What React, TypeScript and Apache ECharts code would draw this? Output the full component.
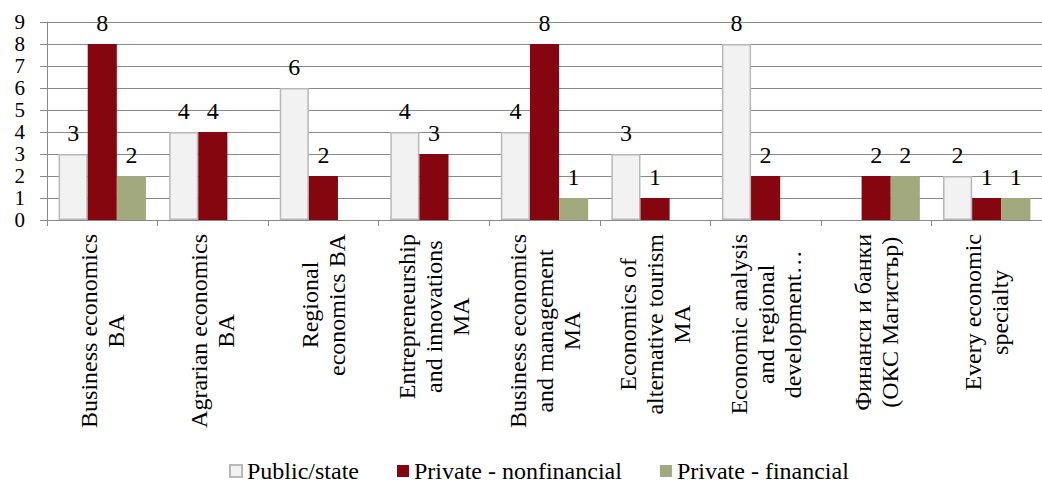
import React, { useEffect, useRef } from "react";
import * as echarts from "echarts";

const categories = [
  "Business economics\nBA",
  "Agrarian economics\nBA",
  "Regional\neconomics BA",
  "Entrepreneurship\nand innovations\nMA",
  "Business economics\nand management\nMA",
  "Economics of\nalternative tourism\nMA",
  "Economic analysis\nand regional\ndevelopment…",
  "Финанси и банки\n(ОКС Магистър)",
  "Every economic\nspecialty",
];

const publicState = [3, 4, 6, 4, 4, 3, 8, null, 2];
const privateNonfinancial = [8, 4, 2, 3, 8, 1, 2, 2, 1];
const privateFinancial = [2, null, null, null, 1, null, null, 2, 1];

const FONT = '"Liberation Serif", "Times New Roman", serif';
const GRID_COLOR = "#8a8a8a";

export default function App() {
  const ref = useRef<HTMLDivElement>(null);

  useEffect(() => {
    if (!ref.current) return;
    const chart = echarts.init(ref.current, null, { renderer: "svg" });

    const label = {
      show: true,
      position: "top",
      distance: 9,
      color: "#000",
      fontFamily: FONT,
      fontSize: 24,
    };

    chart.setOption({
      animation: false,
      textStyle: { fontFamily: FONT },
      grid: { left: 47, top: 22, width: 1003.5, height: 198, containLabel: false },
      legend: {
        left: 224,
        top: 454,
        itemWidth: 12,
        itemHeight: 12,
        itemGap: 38,
        icon: "rect",
        textStyle: { fontFamily: FONT, fontSize: 24, color: "#000" },
        data: ["Public/state", "Private - nonfinancial", "Private - financial"],
      },
      xAxis: {
        type: "category",
        data: categories,
        boundaryGap: true,
        axisLine: { show: true, lineStyle: { color: GRID_COLOR, width: 1 } },
        axisTick: { show: true, length: 6, alignWithLabel: false, lineStyle: { color: GRID_COLOR } },
        axisLabel: {
          interval: 0,
          rotate: 90,
          margin: 14,
          color: "#000",
          fontFamily: FONT,
          fontSize: 24,
          // each line is centred within its label block
          formatter: (v: string) =>
            v
              .split("\n")
              .map((l) => `{c|${l}}`)
              .join("\n"),
          rich: {
            c: {
              align: "center",
              fontFamily: FONT,
              fontSize: 24,
              lineHeight: 27,
              color: "#000",
            },
          },
        },
      },
      yAxis: {
        type: "value",
        min: 0,
        max: 9,
        interval: 1,
        axisLine: { show: true, lineStyle: { color: GRID_COLOR, width: 1 } },
        axisTick: { show: true, length: 7, lineStyle: { color: GRID_COLOR } },
        axisLabel: {
          margin: 22,
          color: "#000",
          fontFamily: FONT,
          fontSize: 21,
          lineHeight: 20,
          showMinLabel: true,
          showMaxLabel: true,
          hideOverlap: false,
        },
        splitLine: { show: true, lineStyle: { color: GRID_COLOR, width: 1 } },
      },
      series: [
        {
          name: "Public/state",
          type: "bar",
          data: publicState,
          barGap: "0%",
          barCategoryGap: "21%",
          itemStyle: { color: "#f2f2f2", borderColor: "#b8b8b8", borderWidth: 1.5 },
          label,
        },
        {
          name: "Private - nonfinancial",
          type: "bar",
          data: privateNonfinancial,
          barGap: "0%",
          barCategoryGap: "21%",
          itemStyle: { color: "#860610" },
          label,
        },
        {
          name: "Private - financial",
          type: "bar",
          data: privateFinancial,
          barGap: "0%",
          barCategoryGap: "21%",
          itemStyle: { color: "#a3a97e" },
          label,
        },
      ],
    });

    return () => chart.dispose();
  }, []);

  return (
    <div
      ref={ref}
      style={{ position: "fixed", left: 0, top: 0, width: 1042, height: 483, background: "#fff" }}
    />
  );
}
